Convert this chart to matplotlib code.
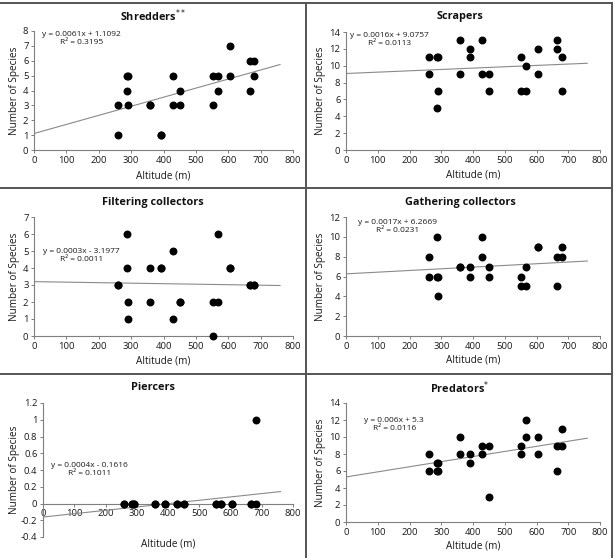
"""Six-panel scatter of functional feeding group richness vs altitude,
with Excel-style linear trendlines."""

import numpy as np
import matplotlib

matplotlib.use("Agg")
import matplotlib.pyplot as plt
from matplotlib.lines import Line2D

plt.rcParams["font.family"] = ["Open Sans", "DejaVu Sans"]

# site altitudes (m); each site sampled twice
sites = [260, 286, 290, 358, 391, 428, 451, 552, 568, 605, 666, 681]

titles = ["Shredders$^{**}$", "Scrapers", "Filtering collectors",
          "Gathering collectors", "Piercers", "Predators$^{*}$"]

# (first sample, second sample) per site
shredders_a = [3, 5, 5, 3, 1, 5, 4, 5, 5, 7, 6, 6]
shredders_b = [1, 4, 3, 3, 1, 3, 3, 3, 4, 5, 4, 5]
scrapers_a = [11, 11, 11, 13, 12, 13, 9, 11, 10, 12, 13, 11]
scrapers_b = [9, 5, 7, 9, 11, 9, 7, 7, 7, 9, 12, 7]
filtering_a = [3, 6, 2, 4, 4, 5, 2, 2, 6, 4, 3, 3]
filtering_b = [3, 4, 1, 2, 4, 1, 2, 0, 2, 4, 3, 3]
gathering_a = [8, 10, 6, 7, 7, 10, 7, 6, 7, 9, 8, 9]
gathering_b = [6, 6, 4, 7, 6, 8, 6, 5, 5, 9, 5, 8]
piercers_a = [0, 0, 0, 0, 0, 0, 0, 0, 0, 0, 0, 1]
piercers_b = [0, 0, 0, 0, 0, 0, 0, 0, 0, 0, 0, 0]
predators_a = [8, 7, 7, 10, 8, 9, 9, 9, 12, 10, 9, 11]
predators_b = [6, 6, 6, 8, 7, 8, 3, 8, 10, 8, 6, 9]

series_a = [shredders_a, scrapers_a, filtering_a, gathering_a, piercers_a, predators_a]
series_b = [shredders_b, scrapers_b, filtering_b, gathering_b, piercers_b, predators_b]

# trendline coefficients (line as drawn) and printed labels
slopes = [0.0061, 0.0016, -0.0003, 0.0017, 0.0004, 0.006]
intercepts = [1.1092, 9.0757, 3.1977, 6.2669, -0.1616, 5.3]
eq_text = ["y = 0.0061x + 1.1092", "y = 0.0016x + 9.0757", "y = 0.0003x - 3.1977",
           "y = 0.0017x + 6.2669", "y = 0.0004x - 0.1616", "y = 0.006x + 5.3"]
r2_text = ["R² = 0.3195", "R² = 0.0113", "R² = 0.0011",
           "R² = 0.0231", "R² = 0.1011", "R² = 0.0116"]

yticks = [list(range(0, 9)), list(range(0, 15, 2)), list(range(0, 8)),
          list(range(0, 13, 2)), [-0.4, -0.2, 0, 0.2, 0.4, 0.6, 0.8, 1, 1.2],
          list(range(0, 15, 2))]
ytick_labels = [None, None, None, None,
                ["-0.4", "-0.2", "0", "0.2", "0.4", "0.6", "0.8", "1", "1.2"], None]

W, H = 614, 558
fig = plt.figure(figsize=(W / 100, H / 100), dpi=100)

# axes boxes in pixels: left, right, top, bottom
boxes = [(34, 293, 31, 150), (346, 600, 32, 150),
         (34, 293, 217, 336), (346, 600, 217, 336),
         (43, 293, 403, 537), (346, 600, 403, 522)]
# equation block centre (axes fraction)
eq_pos = [(0.183, 0.935), (0.171, 0.94), (0.182, 0.673),
          (0.202, 0.924), (0.185, 0.505), (0.19, 0.822)]
title_y = [16, 16, 202, 202, 388, 388]
xlabel_y = [176, 175, 361, 360, 544, 546]

grey = "#7f7f7f"
for i in range(6):
    l, r, t, b = boxes[i]
    ax = fig.add_axes([l / W, 1 - b / H, (r - l) / W, (b - t) / H])
    x = sites + sites
    y = series_a[i] + series_b[i]
    ax.scatter(x, y, s=22, color="black", zorder=3, clip_on=False)
    xl = np.array([0, 760])
    ax.plot(xl, slopes[i] * xl + intercepts[i], color="#8a8a8a", lw=0.8, zorder=2)

    ax.set_xlim(0, 800)
    ax.set_xticks(range(0, 801, 100))
    ax.set_ylim(yticks[i][0], yticks[i][-1])
    ax.set_yticks(yticks[i])
    if ytick_labels[i]:
        ax.set_yticklabels(ytick_labels[i])
    for s in ("top", "right"):
        ax.spines[s].set_visible(False)
    for s in ("left", "bottom"):
        ax.spines[s].set_color(grey)
        ax.spines[s].set_linewidth(0.8)
    if i == 4:
        ax.spines["bottom"].set_position(("data", 0))
    ax.tick_params(length=2.5, width=0.7, color=grey, labelsize=6.8,
                   labelcolor="#1a1a1a", pad=1.5)
    ax.patch.set_visible(False)

    ax.text(eq_pos[i][0], eq_pos[i][1], eq_text[i] + "\n" + r2_text[i],
            transform=ax.transAxes, ha="center", va="center",
            multialignment="center", fontsize=6, linespacing=1.2, color="#1a1a1a")

    cx = 153 if i % 2 == 0 else 460
    fig.text(cx / W, 1 - title_y[i] / H, titles[i], ha="center", va="center",
             fontsize=7.8, fontweight="bold", color="#111111")
    fig.text((l + r) / 2 / W, 1 - xlabel_y[i] / H, "Altitude (m)",
             ha="center", va="center", fontsize=7.2, color="#1a1a1a")
    ylx = 15 if i % 2 == 0 else 320
    fig.text(ylx / W, 1 - (t + b) / 2 / H, "Number of Species", rotation=90,
             ha="center", va="center", fontsize=7.2, color="#1a1a1a")

# panel frame lines
frame = dict(color="#555555", lw=1.4, transform=fig.transFigure)
for yy in (3, 188, 374):
    fig.add_artist(Line2D([0, 612 / W], [1 - yy / H] * 2, **frame))
for xx in (306, 612):
    fig.add_artist(Line2D([xx / W] * 2, [1 - 3 / H, 0], **frame))

fig.savefig("out.png", dpi=100)
